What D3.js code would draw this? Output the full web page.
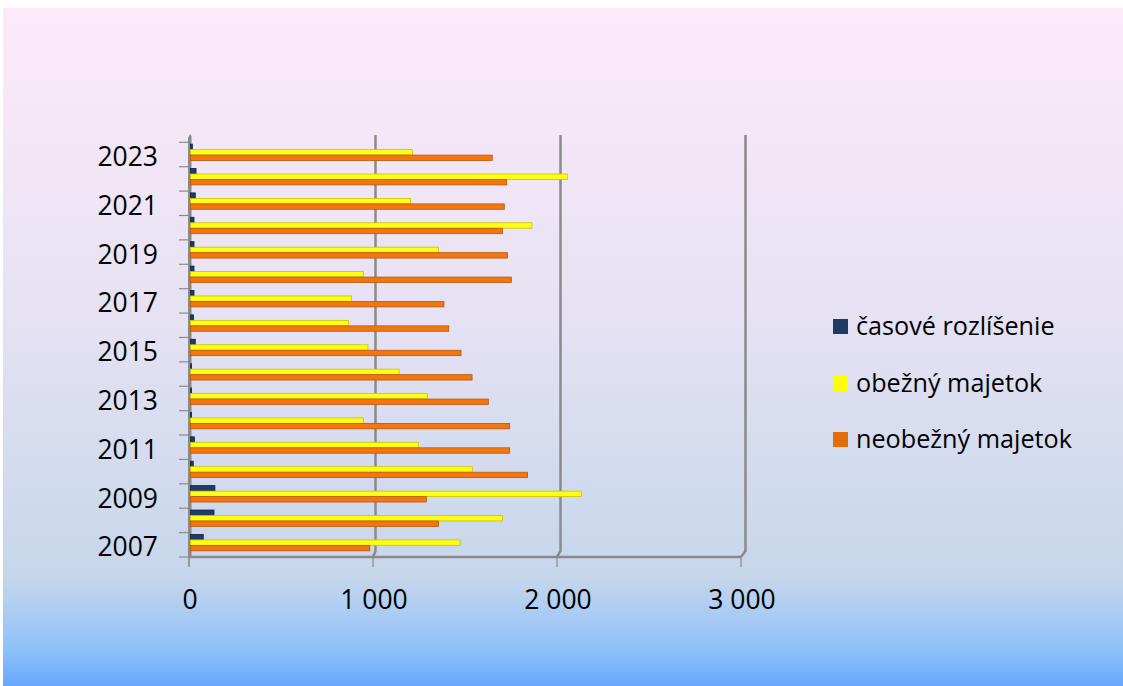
<!DOCTYPE html>
<html>
<head>
<meta charset="utf-8">
<script src="https://cdn.jsdelivr.net/npm/d3@7"></script>
<style>
  html, body { margin: 0; padding: 0; background: #ffffff; }
  svg { display: block; }
  text { font-family: "Open Sans", sans-serif; fill: #000; }
</style>
</head>
<body>
<svg id="chart" width="1123" height="686"></svg>
<script>
// ---- data ----
const years = ["2007","2008","2009","2010","2011","2012","2013","2014","2015","2016","2017","2018","2019","2020","2021","2022","2023"];
const casoveRozlisenie = [69, 127, 132, 15, 21, 5, 5, 5, 26, 16, 19, 19, 19, 19, 26, 30, 10];
const obeznyMajetok    = [1457, 1686, 2113, 1523, 1233, 934, 1280, 1127, 959, 853, 871, 934, 1340, 1846, 1190, 2037, 1199];
const neobeznyMajetok  = [969, 1341, 1275, 1822, 1725, 1725, 1610, 1522, 1462, 1396, 1370, 1734, 1713, 1687, 1696, 1709, 1631];
const seriesNames = ["časové rozlíšenie", "obežný majetok", "neobežný majetok"];
const xTicks = [0, 1000, 2000, 3000];
const yLabelYears = ["2007","2009","2011","2013","2015","2017","2019","2021","2023"];

const series = [
  { name: seriesNames[0], values: casoveRozlisenie, fill: "#1f3c68", stroke: "#0f2446", legend: "#1f3a64" },
  { name: seriesNames[1], values: obeznyMajetok,    fill: "#ffff14", stroke: "#c9c200", legend: "#ffff00" },
  { name: seriesNames[2], values: neobeznyMajetok,  fill: "#f3760f", stroke: "#b8560c", legend: "#e46c0a" }
];

const svg = d3.select("#chart");

// ---- background ----
const defs = svg.append("defs");
const grad = defs.append("linearGradient").attr("id", "bg").attr("x1", 0).attr("y1", 0).attr("x2", 0).attr("y2", 1);
[[0, "#fdeaf9"], [0.45, "#e6e2f3"], [0.84, "#c6d6eb"], [0.89, "#acccf3"], [0.95, "#8cc0fa"], [1, "#68a7fd"]]
  .forEach(([o, c]) => grad.append("stop").attr("offset", o).attr("stop-color", c));
svg.append("rect").attr("x", 3).attr("y", 8).attr("width", 1120).attr("height", 678).attr("fill", "url(#bg)");

// ---- scales ----
const yTop = 142.3, yBottom = 557;
const y = d3.scaleBand().domain(years.slice().reverse()).range([yTop, yBottom]).padding(0);
const xBack = d3.scaleLinear().domain([0, 3000]).range([190.5, 745.5]);
const xFront = d3.scaleLinear().domain([0, 3000]).range([189, 741]);

const gridColor = "#8a8a8a";

// gridlines on back wall, bending to the front at floor
const g = svg.append("g");
xTicks.filter(d => d > 0).forEach(d => {
  g.append("path")
    .attr("d", `M${xBack(d)},135 L${xBack(d)},551 L${xFront(d)},557`)
    .attr("fill", "none").attr("stroke", gridColor).attr("stroke-width", 2.5);
});
// floor line
g.append("line").attr("x1", xFront(0)).attr("x2", xFront(3000)).attr("y1", 557).attr("y2", 557)
  .attr("stroke", gridColor).attr("stroke-width", 2.5);
// left wall
g.append("path").attr("d", `M188,138 L190,134 L191.5,136 L191.5,557 L188,557 Z`).attr("fill", gridColor);
g.append("line").attr("x1", 189).attr("x2", 189).attr("y1", 557).attr("y2", 566).attr("stroke", gridColor).attr("stroke-width", 1.2);

// y ticks at band boundaries
const boundaries = years.map(yr => y(yr)).concat([yBottom]);
g.selectAll(".ytick").data(boundaries).enter().append("line")
  .attr("x1", 179).attr("x2", 188).attr("y1", d => d).attr("y2", d => d)
  .attr("stroke", gridColor).attr("stroke-width", 1.2);

// x ticks
g.selectAll(".xtick").data(xTicks).enter().append("line")
  .attr("x1", d => xFront(d)).attr("x2", d => xFront(d)).attr("y1", 557).attr("y2", 567)
  .attr("stroke", gridColor).attr("stroke-width", 1.2);

// ---- bars ----
const barOffsets = [1.8, 7.3, 12.8];
const barH = 5.4;
series.forEach((s, si) => {
  svg.append("g").selectAll("rect").data(years).enter().append("rect")
    .attr("x", xBack(0))
    .attr("y", (yr) => y(yr) + barOffsets[si])
    .attr("width", (yr, i) => Math.max(0, xBack(s.values[i]) - xBack(0)))
    .attr("height", barH)
    .attr("fill", s.fill).attr("stroke", s.stroke).attr("stroke-width", 0.8);
});

// ---- labels ----
svg.append("g").selectAll("text").data(yLabelYears).enter().append("text")
  .attr("x", 158).attr("y", d => y(d) + y.bandwidth() / 2 + 11.5)
  .attr("text-anchor", "end").style("font-size", "26.5px").text(d => d);

svg.append("g").selectAll("text").data(xTicks).enter().append("text")
  .attr("x", d => xFront(d) + 1).attr("y", 609)
  .attr("text-anchor", "middle").style("font-size", "26.5px").text(d => d === 0 ? "0" : d3.format(",")(d).replace(/,/g, " "));

// ---- legend ----
const legendY = [319, 376, 432];
const leg = svg.append("g");
series.forEach((s, i) => {
  leg.append("rect").attr("x", 833).attr("y", legendY[i]).attr("width", 15).attr("height", 15).attr("fill", s.legend);
  leg.append("text").attr("x", 856).attr("y", legendY[i] + 15.5).style("font-size", "25.2px").text(s.name);
});
</script>
</body>
</html>
